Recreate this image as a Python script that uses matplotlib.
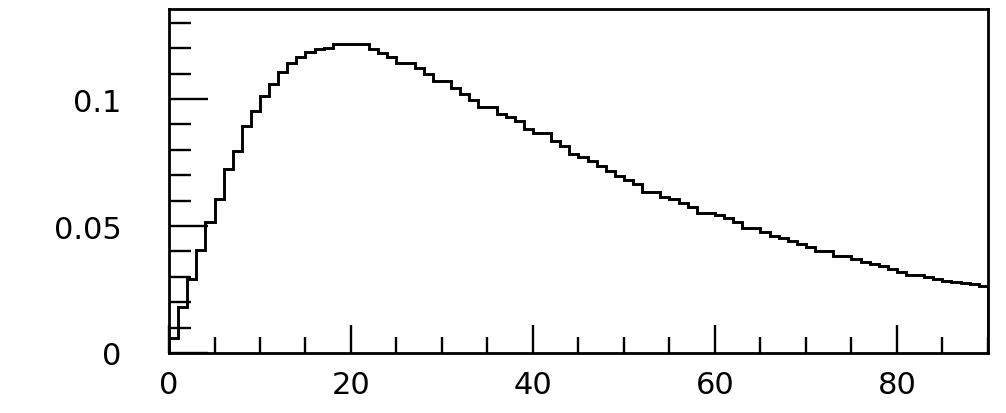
import numpy as np
import matplotlib
matplotlib.use("Agg")
import matplotlib.pyplot as plt
from matplotlib.ticker import MultipleLocator, FuncFormatter

# bin edges (width 1) and bin contents
bin_edges = np.arange(0, 91)
bin_values = [
    0.0060, 0.0180, 0.0291, 0.0405, 0.0514, 0.0606, 0.0724, 0.0797, 0.0892, 0.0954,
    0.1013, 0.1059, 0.1108, 0.1144, 0.1166, 0.1186, 0.1197, 0.1200, 0.1217, 0.1217,
    0.1217, 0.1217, 0.1197, 0.1181, 0.1164, 0.1144, 0.1144, 0.1121, 0.1098, 0.1072,
    0.1072, 0.1042, 0.1020, 0.0997, 0.0967, 0.0967, 0.0941, 0.0928, 0.0915, 0.0882,
    0.0866, 0.0866, 0.0836, 0.0816, 0.0783, 0.0770, 0.0757, 0.0736, 0.0716, 0.0697,
    0.0682, 0.0667, 0.0635, 0.0635, 0.0615, 0.0605, 0.0590, 0.0574, 0.0551, 0.0551,
    0.0543, 0.0530, 0.0514, 0.0491, 0.0491, 0.0475, 0.0459, 0.0451, 0.0440, 0.0429,
    0.0416, 0.0403, 0.0403, 0.0381, 0.0381, 0.0370, 0.0360, 0.0350, 0.0344, 0.0331,
    0.0320, 0.0307, 0.0307, 0.0298, 0.0291, 0.0285, 0.0280, 0.0276, 0.0272, 0.0263,
]
x_ticks = [0, 20, 40, 60, 80]
y_ticks = [0, 0.05, 0.1]

fig = plt.figure(figsize=(10.06, 4.14), dpi=100)
ax = fig.add_axes([0.168, 0.145, 0.814, 0.831])

ax.stairs(bin_values, bin_edges, color="black", linewidth=2.1)

ax.set_xlim(0, 90)
ax.set_ylim(0, 0.1355)

ax.set_xticks(x_ticks)
ax.set_yticks(y_ticks)
ax.xaxis.set_minor_locator(MultipleLocator(5))
ax.yaxis.set_minor_locator(MultipleLocator(0.01))
ax.yaxis.set_major_formatter(FuncFormatter(lambda v, p: f"{v:g}"))

ax.tick_params(axis="both", which="both", direction="in", width=1.7,
               top=False, right=False, labelsize=22, color="black")
ax.tick_params(axis="y", which="major", length=28, pad=34)
ax.tick_params(axis="y", which="minor", length=16)
ax.tick_params(axis="x", which="major", length=20, pad=12)
ax.tick_params(axis="x", which="minor", length=11.5)

for s in ax.spines.values():
    s.set_linewidth(2.0)

fig.savefig("out.png", dpi=100)
